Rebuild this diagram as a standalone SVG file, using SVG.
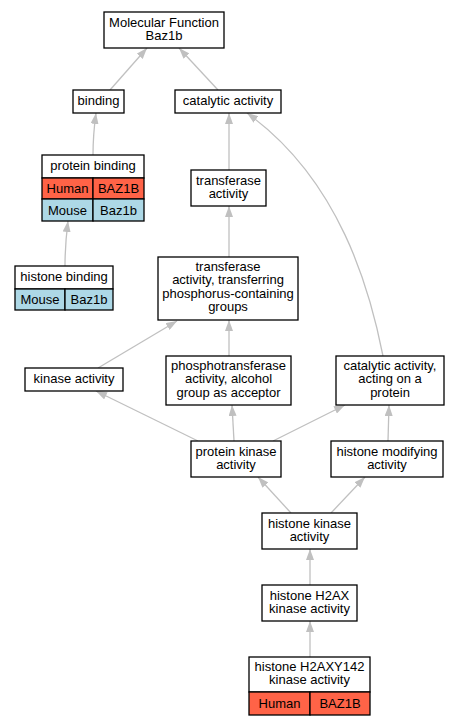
<svg xmlns="http://www.w3.org/2000/svg" width="460" height="725" viewBox="0 0 460 725">
<style>
.n{fill:#fff;stroke:#000;stroke-width:1.3}
.h{fill:#ff6347;stroke:#000;stroke-width:1.3}
.m{fill:#add8e6;stroke:#000;stroke-width:1.3}
text{font-family:"Liberation Sans",Arial,sans-serif;font-size:13px;fill:#000;text-anchor:middle}
.e path{fill:none;stroke:#c0c0c0;stroke-width:1.3}
</style>
<defs>
<marker id="a" markerUnits="userSpaceOnUse" markerWidth="11" markerHeight="8" refX="11" refY="4" orient="auto">
<path d="M0,0 L11,4 L0,8 z" fill="#c0c0c0"/>
</marker>
</defs>
<rect width="460" height="725" fill="#fff"/>
<g class="e" id="edges">
<path d="M110,90 L147,48" marker-end="url(#a)"/>
<path d="M218,90 L179,48" marker-end="url(#a)"/>
<path d="M93,155 Q93,135 96,113" marker-end="url(#a)"/>
<path d="M65,266 Q65,245 68,221" marker-end="url(#a)"/>
<path d="M229,170 L229,113" marker-end="url(#a)"/>
<path d="M383,356 C370,290 340,180 247,113" marker-end="url(#a)"/>
<path d="M229,257 L229,206" marker-end="url(#a)"/>
<path d="M98,368 L177,321" marker-end="url(#a)"/>
<path d="M229,356 L229,320" marker-end="url(#a)"/>
<path d="M198,441 L96,391" marker-end="url(#a)"/>
<path d="M234,441 L232,405" marker-end="url(#a)"/>
<path d="M273,441 L345,405" marker-end="url(#a)"/>
<path d="M388,441 L389,405" marker-end="url(#a)"/>
<path d="M291,513 L258,477" marker-end="url(#a)"/>
<path d="M331,513 L365,477" marker-end="url(#a)"/>
<path d="M310,585 L310,549" marker-end="url(#a)"/>
<path d="M310,657 L310,621" marker-end="url(#a)"/>
</g>
<g id="mf">
<rect class="n" x="104" y="12" width="120" height="36"/>
<text x="164" y="26.5">Molecular Function</text>
<text x="164" y="39.8">Baz1b</text>
</g>
<g id="binding">
<rect class="n" x="73" y="90" width="51" height="23"/>
<text x="98.5" y="105">binding</text>
</g>
<g id="catalytic">
<rect class="n" x="175" y="90" width="106" height="23"/>
<text x="228" y="105">catalytic activity</text>
</g>
<g id="proteinbinding">
<rect class="n" x="42" y="155" width="102" height="23"/>
<text x="93" y="170">protein binding</text>
<rect class="h" x="42" y="178" width="51" height="21"/>
<rect class="h" x="93" y="178" width="51" height="21"/>
<text x="67.5" y="193">Human</text>
<text x="118.5" y="193">BAZ1B</text>
<rect class="m" x="42" y="199" width="51" height="22"/>
<rect class="m" x="93" y="199" width="51" height="22"/>
<text x="67.5" y="214.5">Mouse</text>
<text x="118.5" y="214.5">Baz1b</text>
</g>
<g id="histonebinding">
<rect class="n" x="15" y="266" width="98" height="23"/>
<text x="64" y="281">histone binding</text>
<rect class="m" x="15" y="289" width="50" height="21"/>
<rect class="m" x="65" y="289" width="48" height="21"/>
<text x="40" y="304">Mouse</text>
<text x="89" y="304">Baz1b</text>
</g>
<g id="transferase">
<rect class="n" x="191" y="170" width="75" height="36"/>
<text x="228.5" y="184.5">transferase</text>
<text x="228.5" y="197.8">activity</text>
</g>
<g id="transferring">
<rect class="n" x="158" y="257" width="140" height="63"/>
<text x="228" y="271">transferase</text>
<text x="228" y="284.3">activity, transferring</text>
<text x="228" y="297.6">phosphorus-containing</text>
<text x="228" y="310.9">groups</text>
</g>
<g id="kinase">
<rect class="n" x="25" y="368" width="98" height="23"/>
<text x="74" y="383">kinase activity</text>
</g>
<g id="phospho">
<rect class="n" x="166" y="356" width="125" height="49"/>
<text x="228.5" y="370">phosphotransferase</text>
<text x="228.5" y="383.3">activity, alcohol</text>
<text x="228.5" y="396.6">group as acceptor</text>
</g>
<g id="catprotein">
<rect class="n" x="336" y="356" width="108" height="49"/>
<text x="390" y="370">catalytic activity,</text>
<text x="390" y="383.3">acting on a</text>
<text x="390" y="396.6">protein</text>
</g>
<g id="proteinkinase">
<rect class="n" x="191" y="441" width="90" height="36"/>
<text x="236" y="455.5">protein kinase</text>
<text x="236" y="468.8">activity</text>
</g>
<g id="histonemod">
<rect class="n" x="331" y="441" width="112" height="36"/>
<text x="387" y="455.5">histone modifying</text>
<text x="387" y="468.8">activity</text>
</g>
<g id="histonekinase">
<rect class="n" x="262" y="513" width="95" height="36"/>
<text x="309.5" y="527.5">histone kinase</text>
<text x="309.5" y="540.8">activity</text>
</g>
<g id="h2ax">
<rect class="n" x="262" y="585" width="95" height="36"/>
<text x="309.5" y="599.5">histone H2AX</text>
<text x="309.5" y="612.8">kinase activity</text>
</g>
<g id="h2axy142">
<rect class="n" x="249" y="657" width="121" height="35"/>
<text x="309.5" y="671">histone H2AXY142</text>
<text x="309.5" y="684.3">kinase activity</text>
<rect class="h" x="249" y="692" width="61" height="23"/>
<rect class="h" x="310" y="692" width="60" height="23"/>
<text x="279.5" y="707.5">Human</text>
<text x="340" y="707.5">BAZ1B</text>
</g>
</svg>
